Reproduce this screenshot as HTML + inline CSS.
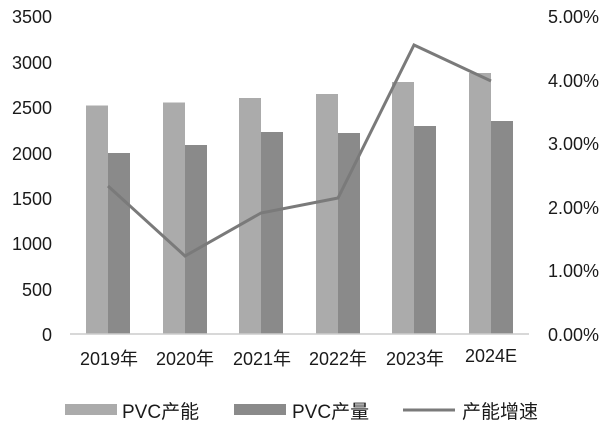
<!DOCTYPE html>
<html><head><meta charset="utf-8"><style>
body{margin:0;background:#fff}
svg text{font-family:"Liberation Sans","Noto Sans CJK SC",sans-serif;fill:#1a1a1a}
</style></head><body>
<svg width="610" height="433" viewBox="0 0 610 433" xmlns="http://www.w3.org/2000/svg">
<g font-size="18" text-anchor="end">
<text x="52" y="23">3500</text><text x="52" y="69">3000</text><text x="52" y="114">2500</text>
<text x="52" y="160">2000</text><text x="52" y="205">1500</text><text x="52" y="250">1000</text>
<text x="52" y="296">500</text><text x="52" y="341">0</text>
</g>
<g font-size="18" text-anchor="end">
<text x="599" y="23">5.00%</text><text x="599" y="87">4.00%</text><text x="599" y="150">3.00%</text>
<text x="599" y="214">2.00%</text><text x="599" y="277">1.00%</text><text x="599" y="341">0.00%</text>
</g>
<g>
<rect x="86" y="105.5" width="22" height="228.5" fill="#ababab"/><rect x="108" y="153" width="22" height="181" fill="#8a8a8a"/>
<rect x="163" y="102.5" width="22" height="231.5" fill="#ababab"/><rect x="185" y="145" width="22" height="189" fill="#8a8a8a"/>
<rect x="239" y="98" width="22" height="236" fill="#ababab"/><rect x="261" y="132" width="22" height="202" fill="#8a8a8a"/>
<rect x="316" y="94" width="22" height="240" fill="#ababab"/><rect x="338" y="133" width="22" height="201" fill="#8a8a8a"/>
<rect x="392" y="82" width="22" height="252" fill="#ababab"/><rect x="414" y="126" width="22" height="208" fill="#8a8a8a"/>
<rect x="469" y="73" width="22" height="261" fill="#ababab"/><rect x="491" y="121" width="22" height="213" fill="#8a8a8a"/>
</g>
<line x1="70" y1="334" x2="529" y2="334" stroke="#ccc" stroke-width="1.5"/>
<polyline points="108,186 185,256 261,213 338,198 414,45 491,81" fill="none" stroke="#7a7a7a" stroke-width="3"/>
<g font-size="18" text-anchor="middle">
<text x="109" y="365">2019年</text><text x="185" y="365">2020年</text><text x="262" y="365">2021年</text>
<text x="338" y="365">2022年</text><text x="415" y="365">2023年</text><text x="491" y="362">2024E</text>
</g>
<rect x="65" y="404" width="52" height="11" fill="#ababab"/>
<text x="122" y="418" font-size="19">PVC产能</text>
<rect x="234" y="404" width="52" height="11" fill="#8a8a8a"/>
<text x="292" y="418" font-size="19">PVC产量</text>
<line x1="403" y1="410" x2="455" y2="410" stroke="#7a7a7a" stroke-width="3"/>
<text x="462" y="418" font-size="19">产能增速</text>
</svg>
</body></html>
